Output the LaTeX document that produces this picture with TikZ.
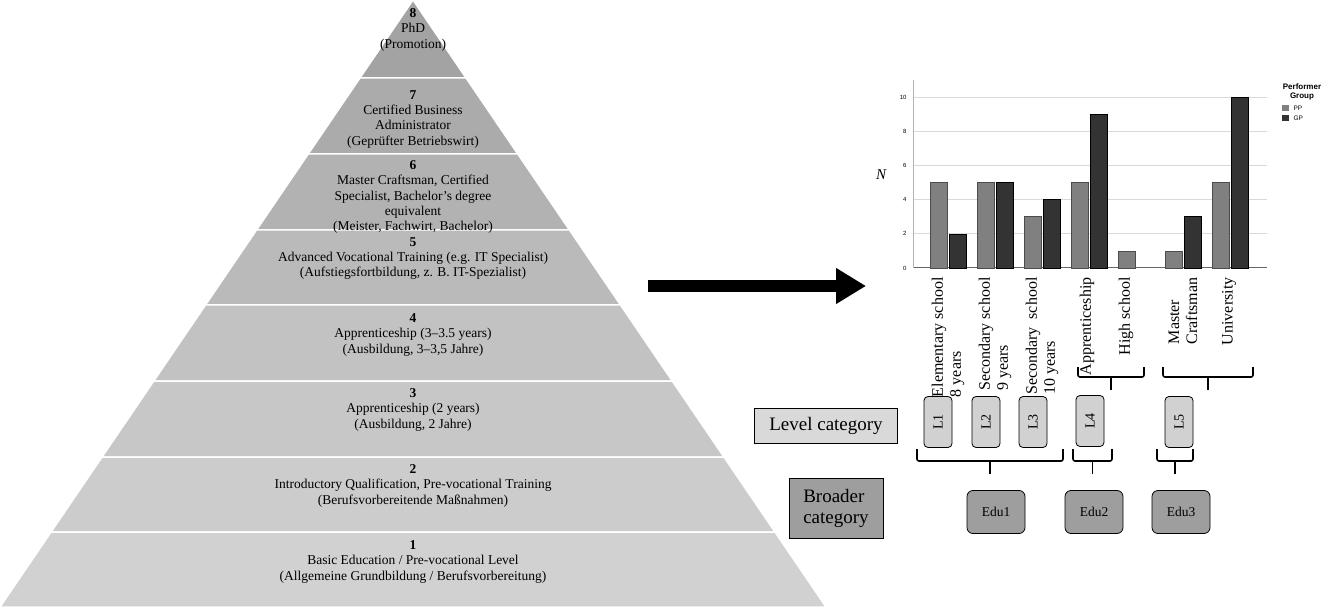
\documentclass[tikz,border=0pt]{standalone}
\usepackage{fontspec}
\setmainfont{Liberation Serif}
\newfontfamily\chartsans{Liberation Sans}
\usetikzlibrary{arrows.meta,positioning}

\tikzset{
  band text/.style={anchor=north, align=center, font=\fontsize{13.5}{15.3}\selectfont},
  axis label/.style={rotate=90, anchor=east, align=left, font=\fontsize{16}{18}\selectfont},
  lev box/.style={draw, thick, rounded corners=4pt, fill=black!18, minimum width=28pt, minimum height=51pt, inner sep=0pt},
  edu box/.style={draw, thick, rounded corners=6pt, fill=black!38, minimum width=58pt, minimum height=43pt, font=\fontsize{13.5}{15}\selectfont},
  cat box/.style={draw, thick, align=left, font=\fontsize{19}{21}\selectfont},
  brace/.style={line width=1.6pt, rounded corners=2pt},
  pp bar/.style={draw=black!70, fill=black!50},
  gp bar/.style={draw=black, fill=black!80},
}
% bracket: x1, x2, top y, bottom y
\newcommand{\bracket}[4]{%
  \draw[brace] (#1,#3) -- (#1,#4) -- (#2,#4) -- (#2,#3);
  \draw[brace] ({(#1+#2)/2},#4) -- ({(#1+#2)/2},#4+13);}

\begin{document}
\begin{tikzpicture}[x=1pt,y=-1pt]
  \useasboundingbox (0,0) rectangle (1325,612);

  % pyramid bands
  \foreach \ya/\yb/\g in {0/78/36, 78/154/33, 154/230/30, 230/305/27, 305/381/24, 381/457/22, 457/532/20, 532/607/18}
    \fill[black!\g, draw=white, line width=1.5pt]
      ({413-0.6804*\ya},\ya) -- ({413+0.6804*\ya},\ya) -- ({413+0.6804*\yb},\yb) -- ({413-0.6804*\yb},\yb) -- cycle;

  \node[band text] (b8) at (413,5) {\textbf{8}\\PhD\\(Promotion)};
  \node[band text] (b7) at (413,87) {\textbf{7}\\Certified Business\\Administrator\\(Geprüfter Betriebswirt)};
  \node[band text] (b6) at (413,157) {\textbf{6}\\Master Craftsman, Certified\\Specialist, Bachelor’s degree\\equivalent\\(Meister, Fachwirt, Bachelor)};
  \node[band text] (b5) at (413,234) {\textbf{5}\\Advanced Vocational Training (e.g. IT Specialist)\\(Aufstiegsfortbildung, z. B. IT-Spezialist)};
  \node[band text] (b4) at (413,310) {\textbf{4}\\Apprenticeship (3--3.5 years)\\(Ausbildung, 3--3,5 Jahre)};
  \node[band text] (b3) at (413,385) {\textbf{3}\\Apprenticeship (2 years)\\(Ausbildung, 2 Jahre)};
  \node[band text] (b2) at (413,461) {\textbf{2}\\Introductory Qualification, Pre-vocational Training\\(Berufsvorbereitende Maßnahmen)};
  \node[band text] (b1) at (413,537) {\textbf{1}\\Basic Education / Pre-vocational Level\\(Allgemeine Grundbildung / Berufsvorbereitung)};

  % big arrow
  \coordinate (arrA) at (648,286);
  \coordinate (arrB) at (866,286);
  \draw[line width=12pt, -{Triangle[length=30pt,width=34pt]}] (arrA) -- (arrB);

  % chart
  \foreach \v in {2,4,...,10}
    \draw[black!15, line width=0.8pt] (913,{268-17.1*\v}) -- (1267,{268-17.1*\v});
  \foreach \v in {0,2,...,10}
    \node[font=\chartsans\fontsize{6}{6}\selectfont, anchor=east] at (910,{268-17.1*\v}) {\v};
  \draw[black!60, line width=1pt] (913,268) -- (1267,268);
  \draw[black!30] (913,268) -- (913,80);
  \node[font=\itshape\fontsize{15}{15}\selectfont] (ylab) at (881,175) {N};

  \foreach \pp/\gp [count=\i from 0] in {5/2, 5/5, 3/4, 5/9, 1/0, 1/3, 5/10} {
    \pgfmathsetmacro{\xl}{930+47*\i}
    \draw[pp bar] (\xl,268) rectangle ({\xl+17},{268-17.1*\pp});
    \ifnum\gp>0
      \draw[gp bar] ({\xl+19},268) rectangle ({\xl+36},{268-17.1*\gp});
    \fi
  }

  % legend
  \node[font=\chartsans\bfseries\fontsize{8}{8.5}\selectfont, align=center] (legt) at (1302,92) {Performer\\Group};
  \fill[black!50] (1282,105) rectangle (1289,111);
  \fill[black!80] (1282,115) rectangle (1289,121);
  \node[font=\chartsans\fontsize{6.5}{6.5}\selectfont, anchor=west] (lpp) at (1290,108) {PP};
  \node[font=\chartsans\fontsize{6.5}{6.5}\selectfont, anchor=west] (lgp) at (1290,118) {GP};

  % rotated category labels
  \node[axis label] (c1) at (948,274) {Elementary school\\8 years};
  \node[axis label] (c2) at (995,274) {Secondary school\\9 years};
  \node[axis label] (c3) at (1042,274) {Secondary\enspace school\\10 years};
  \node[axis label] (c4) at (1087,274) {Apprenticeship};
  \node[axis label] (c5) at (1126,274) {High school};
  \node[axis label] (c6) at (1183,274) {Master\\Craftsman};
  \node[axis label] (c7) at (1229,274) {University};

  % brackets
  \bracket{1078}{1144}{367}{377}
  \bracket{1163}{1253}{367}{377}
  \bracket{917}{1063}{449}{461}
  \bracket{1073}{1112}{449}{461}
  \bracket{1157}{1193}{449}{461}

  % level boxes
  \node[lev box] (l1) at (938,422) {\rotatebox{90}{\fontsize{14}{14}\selectfont L1}};
  \node[lev box] (l2) at (986,422) {\rotatebox{90}{\fontsize{14}{14}\selectfont L2}};
  \node[lev box] (l3) at (1033,422) {\rotatebox{90}{\fontsize{14}{14}\selectfont L3}};
  \node[lev box] (l4) at (1090,421) {\rotatebox{90}{\fontsize{14}{14}\selectfont L4}};
  \node[lev box] (l5) at (1179,422) {\rotatebox{90}{\fontsize{14}{14}\selectfont L5}};

  \node[edu box] (e1) at (996,512) {Edu1};
  \node[edu box] (e2) at (1094,512) {Edu2};
  \node[edu box] (e3) at (1181,512) {Edu3};

  \node[cat box, fill=black!15, minimum width=143pt, minimum height=35pt] (levcat) at (826,426) {Level category};
  \node[cat box, fill=black!38, minimum width=94pt, minimum height=60pt] (brcat) at (836,508) {Broader\\category};
\end{tikzpicture}
\end{document}
